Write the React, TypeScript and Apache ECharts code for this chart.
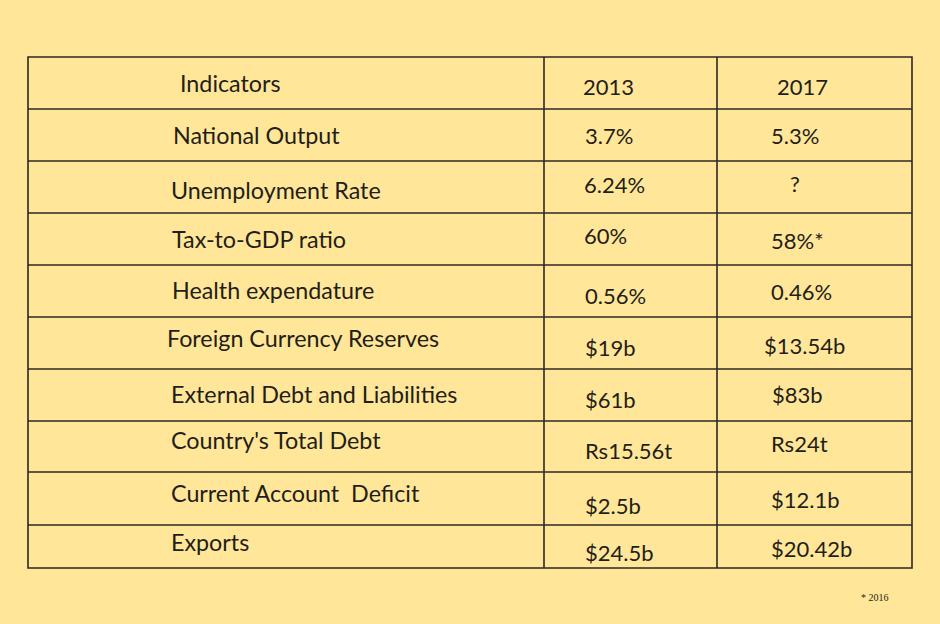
import React, { useEffect, useRef } from "react";
import * as echarts from "echarts";

const headers = ["Indicators", "2013", "2017"];
const indicators = [
  "National Output",
  "Unemployment Rate",
  "Tax-to-GDP ratio",
  "Health expendature",
  "Foreign Currency Reserves",
  "External Debt and Liabilities",
  "Country's Total Debt",
  "Current Account  Deficit",
  "Exports",
];
const values2013 = ["3.7%", "6.24%", "60%", "0.56%", "$19b", "$61b", "Rs15.56t", "$2.5b", "$24.5b"];
const values2017 = ["5.3%", "?", "58%*", "0.46%", "$13.54b", "$83b", "Rs24t", "$12.1b", "$20.42b"];
const footnote = "* 2016";

// layout (pixels)
const colEdges = [28, 544, 717, 912];
const rowEdges = [57, 109, 161, 213, 265, 317, 369, 421, 472, 525, 568];
const colX = [
  [180, 173, 171, 172, 172, 167, 171, 171, 171, 171],
  [583, 585, 584, 584, 585, 585, 585, 585, 585, 585],
  [777, 771, 790, 771, 771, 764, 772, 771, 771, 771],
];
const rowY = [
  [83, 135, 190, 239, 290, 338, 394, 440, 493, 542],
  [86, 135, 184, 235, 295, 347, 399, 450, 505, 552],
  [86, 135, 183, 240, 291, 345, 394, 443, 499, 548],
];
const colFontSize = [23.3, 22, 22];

export default function App() {
  const ref = useRef<HTMLDivElement>(null);
  useEffect(() => {
    if (!ref.current) return;
    const chart = echarts.init(ref.current, null, { renderer: "svg" });
    const lineColor = "#2b2a22";
    const textColor = "#1f1e18";
    const els: any[] = [];
    els.push({
      type: "rect",
      shape: { x: colEdges[0], y: rowEdges[0], width: colEdges[3] - colEdges[0], height: rowEdges[rowEdges.length - 1] - rowEdges[0] },
      style: { fill: "none", stroke: lineColor, lineWidth: 1.6 },
    });
    for (let i = 1; i < rowEdges.length - 1; i++) {
      els.push({
        type: "line",
        shape: { x1: colEdges[0], y1: rowEdges[i], x2: colEdges[3], y2: rowEdges[i] },
        style: { stroke: lineColor, lineWidth: 1.6 },
      });
    }
    for (let j = 1; j < colEdges.length - 1; j++) {
      els.push({
        type: "line",
        shape: { x1: colEdges[j], y1: rowEdges[0], x2: colEdges[j], y2: rowEdges[rowEdges.length - 1] },
        style: { stroke: lineColor, lineWidth: 1.6 },
      });
    }
    const columns = [
      [headers[0], ...indicators],
      [headers[1], ...values2013],
      [headers[2], ...values2017],
    ];
    columns.forEach((col, c) => {
      col.forEach((t, r) => {
        els.push({
          type: "text",
          x: colX[c][r],
          y: rowY[c][r],
          style: {
            text: t,
            fill: textColor,
            font: colFontSize[c] + "px Lato",
            textAlign: "left",
            textVerticalAlign: "middle",
          },
        });
      });
    });
    els.push({
      type: "text",
      x: 861,
      y: 597,
      style: {
        text: footnote,
        fill: textColor,
        font: "10px 'Liberation Serif'",
        textAlign: "left",
        textVerticalAlign: "middle",
      },
    });
    chart.setOption({
      animation: false,
      backgroundColor: "#FFE699",
      graphic: { elements: els },
    });
    return () => chart.dispose();
  }, []);
  return <div ref={ref} style={{ position: "absolute", left: 0, top: 0, width: 940, height: 624 }} />;
}
